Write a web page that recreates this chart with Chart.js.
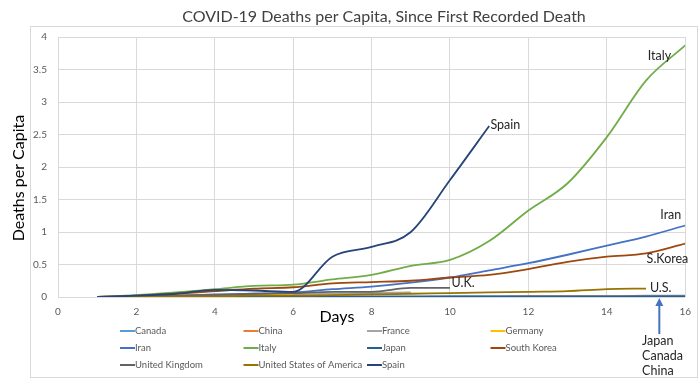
<!DOCTYPE html>
<html>
<head>
<meta charset="utf-8">
<script src="https://cdn.jsdelivr.net/npm/chart.js@4/dist/chart.umd.min.js"></script>
<style>
  html, body { margin: 0; padding: 0; background: #fff; }
</style>
</head>
<body>
<canvas id="chart" width="700" height="388"></canvas>
<script>
// days since first recorded death
const days = [1, 2, 3, 4, 5, 6, 7, 8, 9, 10, 11, 12, 13, 14, 15, 16];

const countries = ["Canada", "China", "France", "Germany", "Iran", "Italy", "Japan",
  "South Korea", "United Kingdom", "United States of America", "Spain"];

const canada  = [0, 0, 0, 0, 0, 0, 0, 0, 0, 0.01, 0.01, 0.01, 0.01, 0.01, 0.02, 0.02];
const china   = [0, 0, 0, 0, 0, 0, 0, 0, 0, 0, 0, 0.01, 0.01, 0.01, 0.01, 0.01];
const france  = [0, 0.01, 0.01, 0.02, 0.03, 0.04, 0.05, 0.06, 0.07];
const germany = [0, 0.01, 0.02, 0.03, 0.04, 0.05];
const iran    = [0, 0.01, 0.02, 0.04, 0.05, 0.07, 0.12, 0.16, 0.22, 0.3, 0.41, 0.52, 0.65, 0.79, 0.93, 1.1];
const italy   = [0, 0.03, 0.07, 0.12, 0.17, 0.19, 0.27, 0.34, 0.48, 0.57, 0.86, 1.33, 1.75, 2.46, 3.33, 3.87];
const japan   = [0, 0, 0.01, 0.01, 0.01, 0.01, 0.01, 0.01, 0.01, 0.01, 0.01, 0.01, 0.01, 0.01, 0.01, 0.01];
const skorea  = [0, 0.02, 0.05, 0.09, 0.13, 0.15, 0.21, 0.23, 0.25, 0.3, 0.34, 0.43, 0.54, 0.62, 0.67, 0.82];
const uk      = [0, 0.01, 0.02, 0.03, 0.05, 0.06, 0.08, 0.08, 0.14, 0.14];
const us      = [0, 0, 0.01, 0.01, 0.02, 0.02, 0.03, 0.04, 0.05, 0.06, 0.07, 0.08, 0.09, 0.12, 0.13];
const spain   = [0, 0.02, 0.05, 0.11, 0.1, 0.08, 0.62, 0.77, 1.0, 1.8, 2.63];

const seriesValues = [canada, china, france, germany, iran, italy, japan, skorea, uk, us, spain];
const lineColors = ["#5B9BD5", "#ED7D31", "#A5A5A5", "#FFC000", "#4472C4", "#70AD47",
  "#255E91", "#9E480E", "#636363", "#997300", "#264478"];

const xTicks = [0, 2, 4, 6, 8, 10, 12, 14, 16];
const yTicks = [0, 0.5, 1, 1.5, 2, 2.5, 3, 3.5, 4];

// text labels placed at data coordinates [text, day, value, align]
const callouts = [
  ["Spain", 11.03, 2.64, "left"],
  ["Italy", 15.64, 3.71, "right"],
  ["Iran", 15.9, 1.26, "right"],
  ["S.Korea", 16.08, 0.58, "right"],
  ["U.K.", 10.04, 0.22, "left"],
  ["U.S.", 15.1, 0.14, "left"],
  ["Japan", 14.9, -0.68, "left"],
  ["Canada", 14.9, -0.91, "left"],
  ["China", 14.9, -1.14, "left"]
];

const FONT = "Lato, 'Liberation Sans', sans-serif";

const datasets = countries.map((name, i) => ({
  label: name,
  data: seriesValues[i].map((v, j) => ({ x: days[j], y: v })),
  borderColor: lineColors[i],
  backgroundColor: lineColors[i],
  borderWidth: 1.8,
  pointRadius: 0,
  cubicInterpolationMode: "monotone",
  order: countries.length - i
}));

const extras = {
  id: "extras",
  beforeDraw(chart) {
    const ctx = chart.ctx;
    ctx.save();
    ctx.strokeStyle = "#d9d9d9";
    ctx.lineWidth = 1;
    ctx.strokeRect(30.5, 26.5, 667, 351);
    ctx.restore();
  },
  afterDraw(chart) {
    const ctx = chart.ctx;
    const xs = chart.scales.x, ys = chart.scales.y;
    ctx.save();

    // chart title
    ctx.fillStyle = "#404040";
    ctx.font = "16px " + FONT;
    ctx.textAlign = "center";
    ctx.textBaseline = "middle";
    ctx.fillText("COVID-19 Deaths per Capita, Since First Recorded Death", 384, 17);

    // axis titles
    ctx.fillStyle = "#000";
    ctx.font = "16px " + FONT;
    ctx.fillText("Days", 337, 317);
    ctx.save();
    ctx.translate(19, 178);
    ctx.rotate(-Math.PI / 2);
    ctx.fillText("Deaths per Capita", 0, 0);
    ctx.restore();

    // callouts
    ctx.fillStyle = "#262626";
    ctx.font = "12.5px " + FONT;
    callouts.forEach(([t, d, v, a]) => {
      ctx.textAlign = a;
      ctx.fillText(t, xs.getPixelForValue(d), ys.getPixelForValue(v));
    });

    // arrow pointing at the near-zero lines
    const ax = xs.getPixelForValue(15.34);
    const yTop = ys.getPixelForValue(0) + 1;
    ctx.strokeStyle = "#4472C4";
    ctx.fillStyle = "#4472C4";
    ctx.lineWidth = 2;
    ctx.beginPath();
    ctx.moveTo(ax, yTop + 36);
    ctx.lineTo(ax, yTop + 6);
    ctx.stroke();
    ctx.beginPath();
    ctx.moveTo(ax, yTop);
    ctx.lineTo(ax - 4, yTop + 8);
    ctx.lineTo(ax + 4, yTop + 8);
    ctx.closePath();
    ctx.fill();

    // legend grid, 4 columns like the spreadsheet
    ctx.font = "9.5px " + FONT;
    ctx.textAlign = "left";
    chart.data.datasets.forEach((ds, i) => {
      const x = 120 + (i % 4) * 123.5;
      const y = 331 + Math.floor(i / 4) * 17;
      ctx.strokeStyle = ds.borderColor;
      ctx.lineWidth = 2;
      ctx.beginPath();
      ctx.moveTo(x, y);
      ctx.lineTo(x + 15, y);
      ctx.stroke();
      ctx.fillStyle = "#595959";
      ctx.fillText(ds.label, x + 15, y);
    });
    ctx.restore();
  }
};

new Chart(document.getElementById("chart").getContext("2d"), {
  type: "line",
  data: { datasets },
  plugins: [extras],
  options: {
    responsive: false,
    animation: false,
    layout: { padding: { left: 0, right: 14, top: 37, bottom: 0 } },
    plugins: {
      legend: { display: false },
      tooltip: { enabled: false },
      title: { display: false }
    },
    scales: {
      x: {
        type: "linear",
        min: 0, max: 16,
        afterBuildTicks: s => { s.ticks = xTicks.map(v => ({ value: v })); },
        afterFit: s => { s.height = 91; },
        grid: { color: "#d9d9d9", drawTicks: false },
        border: { display: false },
        ticks: { color: "#595959", font: { family: FONT, size: 10 }, padding: 9, callback: v => String(v) }
      },
      y: {
        min: 0, max: 4,
        afterBuildTicks: s => { s.ticks = yTicks.map(v => ({ value: v })); },
        afterFit: s => { s.width = 58; },
        grid: { color: "#d9d9d9", drawTicks: false },
        border: { display: false },
        ticks: { color: "#595959", font: { family: FONT, size: 10 }, padding: 11, callback: v => String(v) }
      }
    }
  }
});
</script>
</body>
</html>
